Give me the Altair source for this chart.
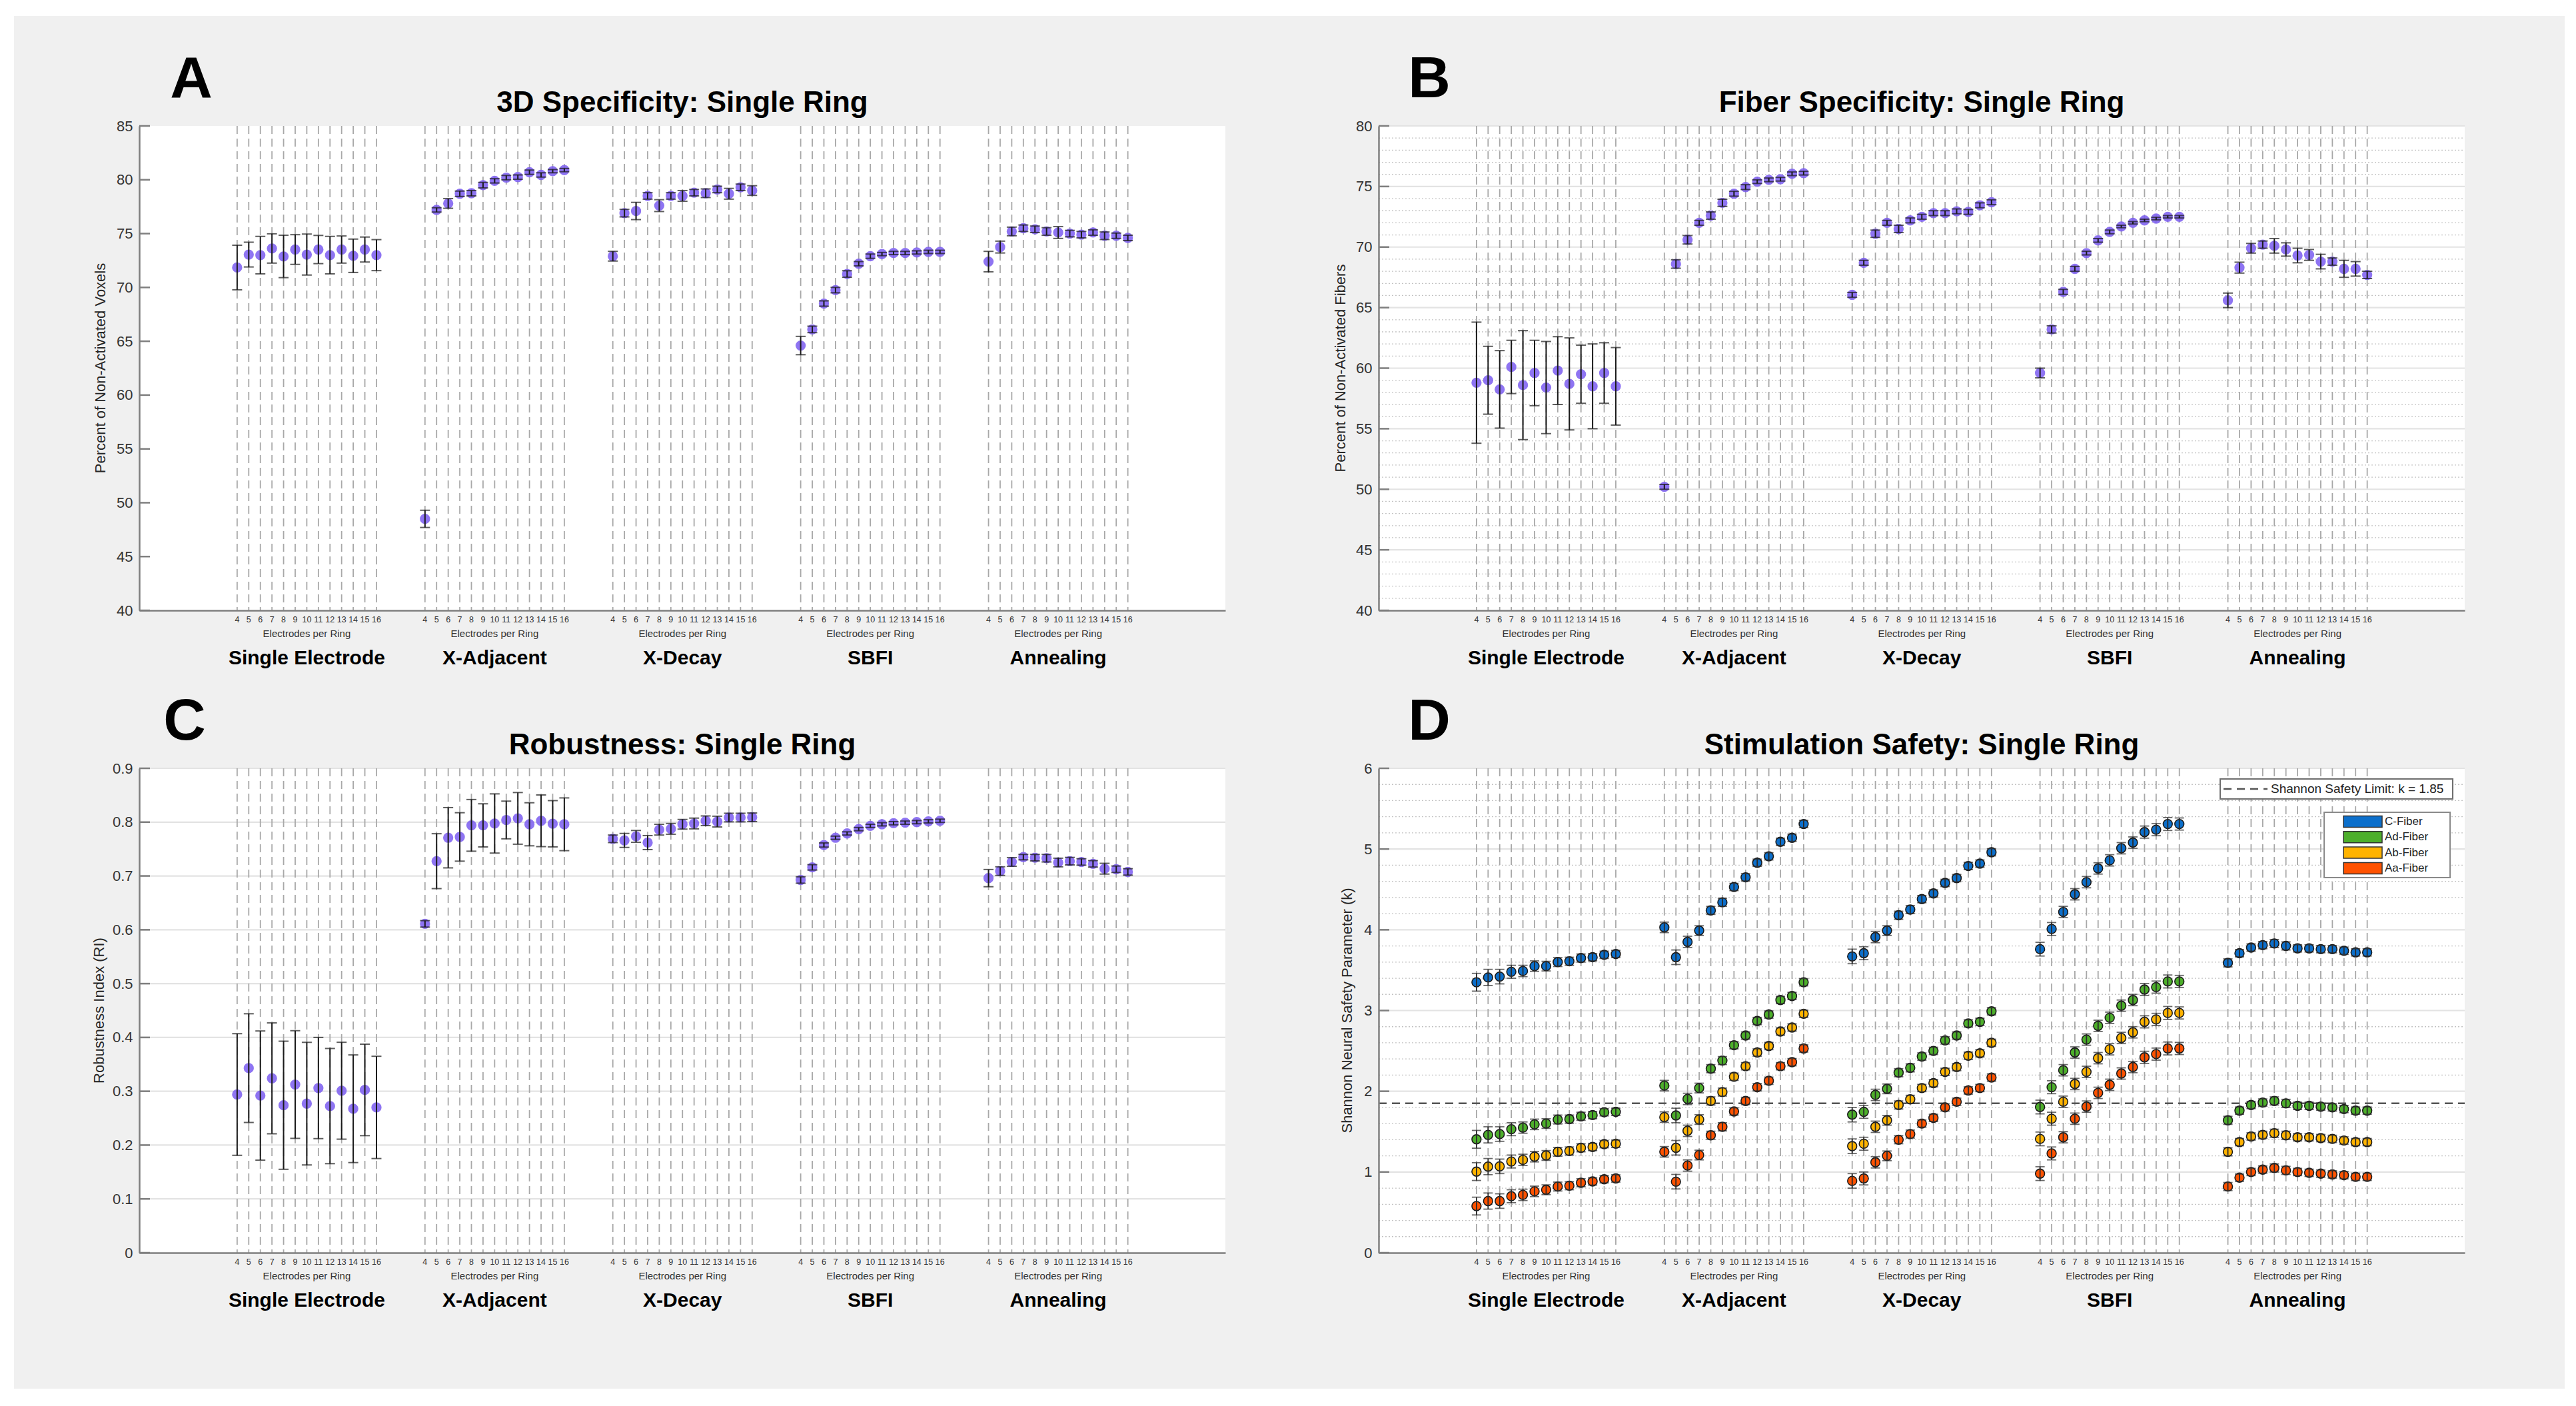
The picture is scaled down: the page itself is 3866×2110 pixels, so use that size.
import altair as alt
import pandas as pd

FONT = "Liberation Sans"
AXC = "#7f7f7f"
W, H = 1630, 727
GAP = 16.18
XMIN, XMAX = -8.43, 85.12

groups = ["Single Electrode", "X-Adjacent", "X-Decay", "SBFI", "Annealing"]
electrodes = list(range(4, 17))

# ---------------- Panel A: 3D specificity ----------------
spec3d_mean = {
    "Single Electrode": [71.85, 73.05, 73.0, 73.62, 72.88, 73.52, 73.05, 73.52, 73.0, 73.52, 72.94, 73.52, 73.0],
    "X-Adjacent": [48.5, 77.2, 77.8, 78.7, 78.75, 79.5, 79.9, 80.2, 80.25, 80.7, 80.45, 80.8, 80.9],
    "X-Decay": [72.9, 76.9, 77.1, 78.5, 77.6, 78.5, 78.5, 78.8, 78.75, 79.1, 78.7, 79.3, 79.0],
    "SBFI": [64.6, 66.1, 68.5, 69.75, 71.25, 72.2, 72.9, 73.1, 73.2, 73.2, 73.25, 73.3, 73.3],
    "Annealing": [72.4, 73.75, 75.2, 75.5, 75.4, 75.2, 75.1, 75.0, 74.9, 75.1, 74.8, 74.8, 74.6],
}
spec3d_err = {
    "Single Electrode": [2.07, 1.15, 1.74, 1.36, 1.97, 1.38, 1.9, 1.31, 1.74, 1.26, 1.55, 1.16, 1.44],
    "X-Adjacent": [0.8, 0.2, 0.45, 0.25, 0.25, 0.25, 0.2, 0.2, 0.2, 0.2, 0.2, 0.15, 0.15],
    "X-Decay": [0.45, 0.35, 0.8, 0.3, 0.55, 0.3, 0.5, 0.3, 0.4, 0.3, 0.5, 0.3, 0.45],
    "SBFI": [0.85, 0.3, 0.25, 0.25, 0.3, 0.2, 0.2, 0.15, 0.15, 0.15, 0.15, 0.15, 0.15],
    "Annealing": [0.95, 0.55, 0.4, 0.3, 0.3, 0.35, 0.55, 0.3, 0.3, 0.25, 0.35, 0.25, 0.25],
}

# ---------------- Panel B: fiber specificity ----------------
fiber_mean = {
    "Single Electrode": [58.8, 59.0, 58.25, 60.1, 58.6, 59.6, 58.4, 59.8, 58.7, 59.5, 58.5, 59.6, 58.5],
    "X-Adjacent": [50.2, 68.6, 70.6, 72.0, 72.6, 73.65, 74.4, 74.95, 75.4, 75.55, 75.6, 76.05, 76.1],
    "X-Decay": [66.05, 68.7, 71.1, 72.0, 71.5, 72.2, 72.5, 72.8, 72.8, 72.95, 72.9, 73.45, 73.7],
    "SBFI": [59.6, 63.2, 66.3, 68.2, 69.5, 70.55, 71.25, 71.7, 72.0, 72.2, 72.35, 72.5, 72.5],
    "Annealing": [65.6, 68.3, 69.9, 70.2, 70.1, 69.8, 69.3, 69.35, 68.8, 68.8, 68.2, 68.2, 67.7],
}
fiber_err = {
    "Single Electrode": [5.0, 2.8, 3.2, 2.2, 4.5, 2.7, 3.8, 2.8, 3.8, 2.4, 3.5, 2.5, 3.2],
    "X-Adjacent": [0.2, 0.35, 0.35, 0.2, 0.3, 0.3, 0.2, 0.2, 0.15, 0.15, 0.15, 0.15, 0.15],
    "X-Decay": [0.2, 0.2, 0.3, 0.2, 0.3, 0.2, 0.2, 0.2, 0.2, 0.2, 0.2, 0.2, 0.2],
    "SBFI": [0.4, 0.3, 0.2, 0.2, 0.15, 0.15, 0.15, 0.1, 0.1, 0.1, 0.1, 0.1, 0.1],
    "Annealing": [0.6, 0.45, 0.4, 0.3, 0.6, 0.55, 0.6, 0.45, 0.6, 0.3, 0.7, 0.6, 0.3],
}

# ---------------- Panel C: robustness ----------------
robust_mean = {
    "Single Electrode": [0.294, 0.343, 0.292, 0.324, 0.274, 0.3125, 0.277, 0.306, 0.2725, 0.301, 0.2675, 0.3025, 0.27],
    "X-Adjacent": [0.611, 0.7275, 0.771, 0.7725, 0.794, 0.794, 0.7975, 0.804, 0.807, 0.796, 0.8025, 0.797, 0.796],
    "X-Decay": [0.769, 0.766, 0.7735, 0.762, 0.786, 0.7875, 0.796, 0.7975, 0.8025, 0.801, 0.8085, 0.8085, 0.809],
    "SBFI": [0.6925, 0.716, 0.7575, 0.771, 0.779, 0.787, 0.793, 0.796, 0.798, 0.799, 0.8, 0.8015, 0.8025],
    "Annealing": [0.696, 0.709, 0.726, 0.735, 0.734, 0.733, 0.725, 0.7275, 0.726, 0.7225, 0.7135, 0.7125, 0.7075],
}
robust_err = {
    "Single Electrode": [0.113, 0.101, 0.12, 0.103, 0.119, 0.1, 0.114, 0.094, 0.107, 0.09, 0.1, 0.085, 0.095],
    "X-Adjacent": [0.006, 0.051, 0.056, 0.045, 0.048, 0.04, 0.055, 0.035, 0.048, 0.04, 0.048, 0.043, 0.049],
    "X-Decay": [0.007, 0.013, 0.011, 0.013, 0.01, 0.01, 0.009, 0.01, 0.009, 0.01, 0.008, 0.008, 0.008],
    "SBFI": [0.006, 0.005, 0.004, 0.003, 0.003, 0.003, 0.003, 0.003, 0.003, 0.003, 0.003, 0.003, 0.003],
    "Annealing": [0.016, 0.008, 0.008, 0.005, 0.006, 0.007, 0.008, 0.007, 0.006, 0.006, 0.01, 0.006, 0.006],
}

# ---------------- Panel D: stimulation safety ----------------
fibers = ["C-Fiber", "Ad-Fiber", "Ab-Fiber", "Aa-Fiber"]
fiber_colors = ["#0C6FCB", "#4DAF2B", "#FFB300", "#FF5200"]
safety_mean = {
    "C-Fiber": {
        "Single Electrode": [3.35, 3.41, 3.42, 3.48, 3.49, 3.55, 3.55, 3.6, 3.61, 3.65, 3.66, 3.69, 3.7],
        "X-Adjacent": [4.03, 3.66, 3.85, 3.99, 4.24, 4.34, 4.53, 4.65, 4.83, 4.91, 5.09, 5.14, 5.31],
        "X-Decay": [3.67, 3.71, 3.91, 3.99, 4.18, 4.25, 4.38, 4.45, 4.58, 4.64, 4.79, 4.82, 4.96],
        "SBFI": [3.76, 4.01, 4.22, 4.44, 4.59, 4.76, 4.86, 5.01, 5.08, 5.21, 5.24, 5.31, 5.31],
        "Annealing": [3.59, 3.71, 3.78, 3.81, 3.83, 3.8, 3.77, 3.77, 3.76, 3.76, 3.74, 3.72, 3.72],
    },
    "Ad-Fiber": {
        "Single Electrode": [1.405, 1.46, 1.47, 1.53, 1.55, 1.59, 1.6, 1.65, 1.655, 1.69, 1.705, 1.74, 1.745],
        "X-Adjacent": [2.07, 1.7, 1.905, 2.04, 2.28, 2.38, 2.57, 2.69, 2.87, 2.95, 3.13, 3.18, 3.35],
        "X-Decay": [1.71, 1.745, 1.955, 2.03, 2.23, 2.29, 2.43, 2.5, 2.63, 2.69, 2.84, 2.86, 2.99],
        "SBFI": [1.805, 2.05, 2.26, 2.48, 2.64, 2.81, 2.91, 3.06, 3.13, 3.26, 3.29, 3.36, 3.36],
        "Annealing": [1.64, 1.76, 1.83, 1.86, 1.88, 1.85, 1.82, 1.82, 1.81, 1.8, 1.78, 1.76, 1.76],
    },
    "Ab-Fiber": {
        "Single Electrode": [1.005, 1.067, 1.07, 1.13, 1.15, 1.19, 1.205, 1.25, 1.26, 1.3, 1.31, 1.345, 1.35],
        "X-Adjacent": [1.68, 1.3, 1.51, 1.65, 1.88, 1.99, 2.18, 2.31, 2.48, 2.56, 2.74, 2.79, 2.96],
        "X-Decay": [1.32, 1.35, 1.56, 1.64, 1.83, 1.9, 2.04, 2.1, 2.24, 2.3, 2.44, 2.47, 2.6],
        "SBFI": [1.41, 1.66, 1.87, 2.09, 2.24, 2.41, 2.52, 2.66, 2.73, 2.86, 2.89, 2.97, 2.97],
        "Annealing": [1.25, 1.37, 1.44, 1.46, 1.48, 1.455, 1.43, 1.43, 1.42, 1.41, 1.39, 1.37, 1.37],
    },
    "Aa-Fiber": {
        "Single Electrode": [0.578, 0.64, 0.64, 0.7, 0.717, 0.76, 0.78, 0.82, 0.83, 0.867, 0.883, 0.91, 0.92],
        "X-Adjacent": [1.25, 0.88, 1.08, 1.21, 1.455, 1.56, 1.75, 1.88, 2.05, 2.13, 2.31, 2.36, 2.53],
        "X-Decay": [0.89, 0.92, 1.12, 1.2, 1.4, 1.47, 1.6, 1.67, 1.8, 1.87, 2.01, 2.04, 2.17],
        "SBFI": [0.98, 1.23, 1.43, 1.66, 1.81, 1.98, 2.08, 2.22, 2.3, 2.42, 2.46, 2.53, 2.53],
        "Annealing": [0.82, 0.93, 1.0, 1.03, 1.05, 1.02, 1.0, 0.99, 0.98, 0.97, 0.96, 0.94, 0.94],
    },
}
safety_err = {
    "Single Electrode": [0.11, 0.10, 0.09, 0.08, 0.07, 0.065, 0.06, 0.055, 0.05, 0.05, 0.045, 0.045, 0.045],
    "X-Adjacent": [0.065, 0.09, 0.07, 0.06, 0.05, 0.05, 0.045, 0.045, 0.045, 0.045, 0.045, 0.045, 0.045],
    "X-Decay": [0.09, 0.08, 0.07, 0.06, 0.05, 0.05, 0.045, 0.045, 0.045, 0.045, 0.045, 0.045, 0.045],
    "SBFI": [0.085, 0.08, 0.07, 0.07, 0.07, 0.07, 0.07, 0.07, 0.07, 0.075, 0.075, 0.08, 0.075],
    "Annealing": [0.05, 0.045, 0.045, 0.045, 0.05, 0.05, 0.045, 0.045, 0.045, 0.045, 0.045, 0.045, 0.045],
}
safety_limit = 1.85

# ---------------- helpers ----------------
def build(means, errs, fiber=None):
    rows = []
    for gi, g in enumerate(groups):
        for ei, n in enumerate(electrodes):
            m = means[g][ei]
            e = errs[g][ei]
            r = {"group": g, "n": n, "pos": gi * GAP + (n - 4), "mean": m, "lo": m - e, "hi": m + e}
            if fiber is not None:
                r["fiber"] = fiber
            rows.append(r)
    return pd.DataFrame(rows)


positions = pd.DataFrame([{"pos": gi * GAP + (n - 4), "n": str(n)} for gi in range(len(groups)) for n in electrodes])
centers = pd.DataFrame([{"pos": gi * GAP + 6, "group": g, "lab": "Electrodes per Ring"} for gi, g in enumerate(groups)])
one = pd.DataFrame({"k": [0]})

xscale = alt.Scale(domain=[XMIN, XMAX], nice=False, zero=False)
xaxis = alt.Axis(labels=False, ticks=False, tickSize=0, grid=False, title=None,
                 domainColor=AXC, domainWidth=2.5, zindex=1)


def X(f="pos"):
    return alt.X(f"{f}:Q", scale=xscale, axis=xaxis)


def txt(text, x, y, size, bold=False, angle=0, align="center", color="#000"):
    kw = dict(font=FONT, fontSize=size, align=align, baseline="middle", color=color)
    if bold:
        kw["fontWeight"] = "bold"
    if angle:
        kw["angle"] = angle
    return alt.Chart(pd.DataFrame({"t": [text]})).mark_text(**kw).encode(
        x=alt.value(x), y=alt.value(y), text="t:N")


def panel(df, ydom, yticks, lexpr, major, minor, title, letter, letter_x, ytitle, ytitle_x,
          fiber_mode=False, bg=False, extra=None):
    ys = alt.Scale(domain=ydom, nice=False, zero=False)
    ya = alt.Axis(values=yticks, labelExpr=lexpr, ticks=False, tickSize=0, grid=False,
                  domainColor=AXC, domainWidth=2.5, labelFont=FONT, labelFontSize=22,
                  labelColor="#333", labelPadding=10, title=None, zindex=1)
    L = []
    if bg:
        L.append(alt.Chart(one).mark_rect(color="#f0f0f0").encode(
            x=alt.value(-188), x2=alt.value(3640), y=alt.value(-165), y2=alt.value(1895)))
        L.append(alt.Chart(one).mark_rect(color="white").encode(
            x=alt.value(0), x2=alt.value(W), y=alt.value(0), y2=alt.value(H)))
    if minor:
        L.append(alt.Chart(pd.DataFrame({"v": minor})).mark_rule(
            color="#c4c4c4", strokeWidth=1.3, strokeDash=[2, 3]).encode(
            y=alt.Y("v:Q", scale=ys, axis=ya), x=alt.value(0), x2=alt.value(W)))
    if major:
        L.append(alt.Chart(pd.DataFrame({"v": major})).mark_rule(
            color="#e3e3e3", strokeWidth=2.2).encode(
            y=alt.Y("v:Q", scale=ys, axis=ya), x=alt.value(0), x2=alt.value(W)))
    L.append(alt.Chart(positions).mark_rule(color="#a8a8a8", strokeWidth=1.8, strokeDash=[12, 7]).encode(
        x=X(), y=alt.value(0), y2=alt.value(H)))
    if fiber_mode:
        L.append(alt.Chart(pd.DataFrame({"v": [safety_limit]})).mark_rule(
            color="#555", strokeWidth=2.5, strokeDash=[12, 8]).encode(
            y=alt.Y("v:Q", scale=ys, axis=ya), x=alt.value(0), x2=alt.value(W)))
        pts = alt.Chart(df).mark_point(filled=True, shape="circle", size=190, stroke="#1a1a1a",
                                       strokeWidth=1.6, opacity=1).encode(
            x=X(), y=alt.Y("mean:Q", scale=ys, axis=ya),
            color=alt.Color("fiber:N", scale=alt.Scale(domain=fibers, range=fiber_colors), legend=None))
        ecol, cap, ew = "#2a2a2a", 14, 1.8
    else:
        pts = alt.Chart(df).mark_point(filled=True, shape="circle", size=235, color="#7a5cf0",
                                       opacity=0.85).encode(
            x=X(), y=alt.Y("mean:Q", scale=ys, axis=ya))
        ecol, cap, ew = "#1a1a1a", 15, 2
    L.append(pts)
    L.append(alt.Chart(df).mark_rule(color=ecol, strokeWidth=ew).encode(
        x=X(), y=alt.Y("lo:Q", scale=ys, axis=ya), y2="hi:Q"))
    for f in ["lo", "hi"]:
        L.append(alt.Chart(df).mark_tick(orient="horizontal", size=cap, thickness=ew, color=ecol).encode(
            x=X(), y=alt.Y(f"{f}:Q", scale=ys, axis=ya)))
    # inward ticks on y axis
    L.append(alt.Chart(pd.DataFrame({"v": yticks})).mark_rule(color=AXC, strokeWidth=2.5).encode(
        y=alt.Y("v:Q", scale=ys, axis=ya), x=alt.value(0), x2=alt.value(16)))
    # x labels
    L.append(alt.Chart(positions).mark_text(font=FONT, fontSize=12.5, color="#333", baseline="middle").encode(
        x=X(), y=alt.value(H + 14), text="n:N"))
    L.append(alt.Chart(centers).mark_text(font=FONT, fontSize=15, color="#333", baseline="middle").encode(
        x=X(), y=alt.value(H + 35), text="lab:N"))
    L.append(alt.Chart(centers).mark_text(font=FONT, fontSize=30, fontWeight="bold", color="#000",
                                          baseline="middle").encode(
        x=X(), y=alt.value(H + 72), text="group:N"))
    L.append(txt(title, W / 2, -34, 44, bold=True))
    L.append(txt(letter, letter_x, -69, 88, bold=True))
    L.append(txt(ytitle, ytitle_x, H / 2, 22, angle=270, color="#262626"))
    if extra:
        L.extend(extra)
    return alt.layer(*L).properties(width=W, height=H)


dfA = build(spec3d_mean, spec3d_err)
dfB = build(fiber_mean, fiber_err)
dfC = build(robust_mean, robust_err)
dfD = pd.concat([build(safety_mean[f], safety_err, f) for f in fibers], ignore_index=True)

A = panel(dfA, [40, 85], list(range(40, 86, 5)), "datum.label", None, None,
          "3D Specificity: Single Ring", "A", 78, "Percent of Non-Activated Voxels", -58, bg=True)
B = panel(dfB, [40, 80], list(range(40, 81, 5)), "datum.label",
          list(range(45, 81, 5)), [v for v in range(41, 80) if v % 5 != 0],
          "Fiber Specificity: Single Ring", "B", 76, "Percent of Non-Activated Fibers", -57)
C = panel(dfC, [0, 0.9], [round(i * 0.1, 1) for i in range(10)],
          "datum.value == 0 ? '0' : format(datum.value, '.1f')",
          [round(i * 0.1, 1) for i in range(1, 10)], None,
          "Robustness: Single Ring", "C", 68, "Robustness Index (RI)", -60)

# legend pieces for panel D (pixel layout of the legend boxes)
legD = []
legD.append(alt.Chart(one).mark_rect(fill="white", stroke="#6e6e6e", strokeWidth=2).encode(
    x=alt.value(1263), x2=alt.value(1612), y=alt.value(16), y2=alt.value(46)))
legD.append(alt.Chart(one).mark_rule(color="#555", strokeWidth=2.5, strokeDash=[12, 8]).encode(
    x=alt.value(1268), x2=alt.value(1334), y=alt.value(31)))
legD.append(txt("Shannon Safety Limit: k = " + str(safety_limit), 1339, 31, 19, align="left", color="#222"))
legD.append(alt.Chart(one).mark_rect(fill="white", stroke="#8a8a8a", strokeWidth=2).encode(
    x=alt.value(1419), x2=alt.value(1608), y=alt.value(66), y2=alt.value(164)))
for i, (f, c) in enumerate(zip(fibers, fiber_colors)):
    cy = 80 + i * 23.3
    legD.append(alt.Chart(one).mark_rect(fill=c, stroke="#333", strokeWidth=1.5).encode(
        x=alt.value(1448), x2=alt.value(1506), y=alt.value(cy - 8.5), y2=alt.value(cy + 8.5)))
    legD.append(txt(f, 1510, cy, 17, align="left", color="#222"))

D = panel(dfD, [0, 6], list(range(0, 7)), "datum.label",
          list(range(1, 7)), [round(i * 0.2, 1) for i in range(1, 30) if i % 5 != 0],
          "Stimulation Safety: Single Ring", "D", 76, "Shannon Neural Safety Parameter (k)", -47,
          fiber_mode=True, extra=legD)

chart = alt.concat(A, B, C, D, columns=2, spacing={"row": 237, "column": 230}, bounds="flush").properties(
    padding={"left": 13, "top": 16, "right": 0, "bottom": 0}
).configure(background="white").configure_view(fill="white", strokeWidth=0)

chart.save("out.html", embed_options={"renderer": "svg", "actions": False})
